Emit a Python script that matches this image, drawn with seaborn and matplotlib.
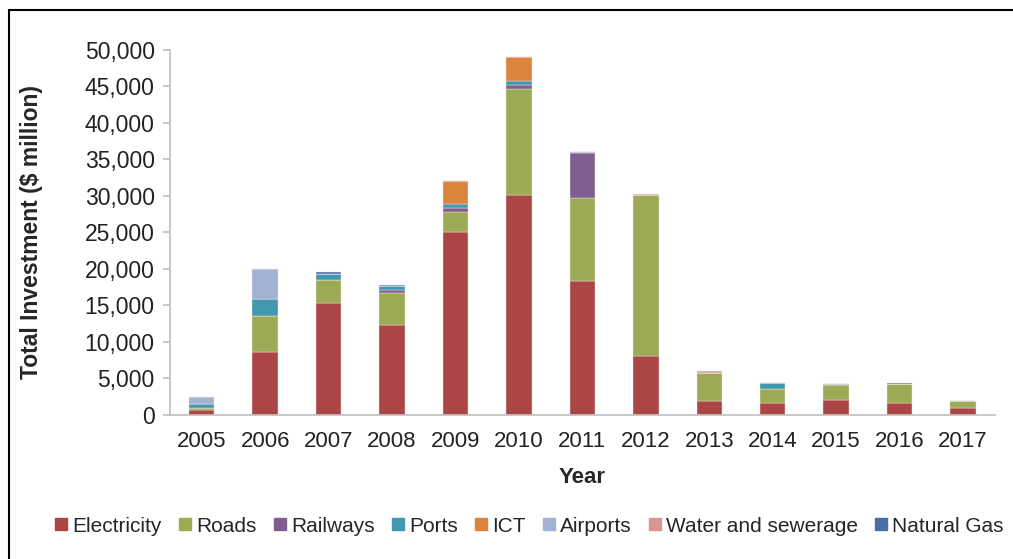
import numpy as np
import pandas as pd
import matplotlib
matplotlib.use("Agg")
import matplotlib.pyplot as plt
from matplotlib.lines import Line2D
from matplotlib.ticker import FuncFormatter
import seaborn as sns

# ── Data ($ million) ───────────────────────────────────────────
years = ["2005", "2006", "2007", "2008", "2009", "2010", "2011",
         "2012", "2013", "2014", "2015", "2016", "2017"]

electricity = [700, 8600, 15300, 12300, 25000, 30200, 18400, 8100, 1900, 1600, 2050, 1650, 900]
roads       = [300, 5000, 3200, 4400, 2800, 14500, 11300, 22000, 3900, 1900, 2000, 2550, 950]
railways    = [0, 0, 0, 400, 500, 450, 6200, 0, 0, 0, 0, 0, 0]
ports       = [500, 2300, 750, 600, 550, 550, 150, 100, 0, 900, 150, 0, 0]
ict         = [0, 0, 0, 0, 3200, 3400, 0, 0, 0, 0, 0, 0, 0]
airports    = [1000, 4100, 0, 0, 0, 0, 0, 0, 0, 0, 0, 0, 0]
water       = [0, 0, 0, 0, 0, 0, 0, 100, 200, 0, 0, 0, 100]
natural_gas = [0, 0, 400, 150, 0, 0, 0, 0, 0, 0, 0, 200, 0]

series_names = ["Electricity", "Roads", "Railways", "Ports", "ICT",
                "Airports", "Water and sewerage", "Natural Gas"]
series_values = [electricity, roads, railways, ports, ict,
                 airports, water, natural_gas]
series_colors = ["#AA4643", "#9BAA55", "#7F5F90", "#4198AF", "#DB843D",
                 "#A2B2D5", "#D99694", "#4A6FA5"]

sns.set_style("white")
plt.rcParams["font.family"] = ["Liberation Sans", "DejaVu Sans"]

fig = plt.figure(figsize=(10.13, 5.59), dpi=100)
ax = fig.add_axes([0.1678, 0.2576, 0.8142, 0.653])

bottom = np.zeros(len(years))
for name, vals, col in zip(series_names, series_values, series_colors):
    df = pd.DataFrame({"Year": years, "Value": vals})
    sns.barplot(data=df, x="Year", y="Value", bottom=bottom, color=col,
                saturation=1, width=0.4, errorbar=None, ax=ax,
                edgecolor="#F2E6E6", linewidth=0.3)
    bottom = bottom + np.array(vals)

ax.set_ylim(0, 50000)
ax.set_xlim(-0.5, len(years) - 0.5)
ax.set_yticks(np.arange(0, 50001, 5000))
ax.yaxis.set_major_formatter(FuncFormatter(lambda v, p: f"{int(v):,}"))

for side in ["top", "right"]:
    ax.spines[side].set_visible(False)
for side in ["left", "bottom"]:
    ax.spines[side].set_color("#BFBFBF")
    ax.spines[side].set_linewidth(1.2)

ax.tick_params(axis="y", which="major", left=True, length=5, width=1.2,
               color="#BFBFBF", labelsize=16.5, pad=6, labelcolor="#222222")
ax.tick_params(axis="x", bottom=False, labelsize=16, pad=8, labelcolor="#222222")

ax.set_xlabel("Year", fontsize=16, fontweight="bold", labelpad=11)
ax.set_ylabel("Total Investment ($ million)", fontsize=16.5, fontweight="bold",
              labelpad=30)

handles = [Line2D([0], [0], marker="s", linestyle="none", markersize=9,
                  markerfacecolor=c, markeredgecolor=c) for c in series_colors]
fig.legend(handles, series_names, loc="center", bbox_to_anchor=(0.522, 0.059),
           ncol=8, frameon=False, fontsize=15, handlelength=0.7,
           handletextpad=0.2, columnspacing=0.75)

# outer frame (left and top edges visible)
fig.add_artist(Line2D([0.009, 0.009], [0, 0.982], color="black", linewidth=1.5,
                      transform=fig.transFigure))
fig.add_artist(Line2D([0.009, 1.0], [0.982, 0.982], color="black", linewidth=1.5,
                      transform=fig.transFigure))

fig.savefig("out.png", dpi=100)
